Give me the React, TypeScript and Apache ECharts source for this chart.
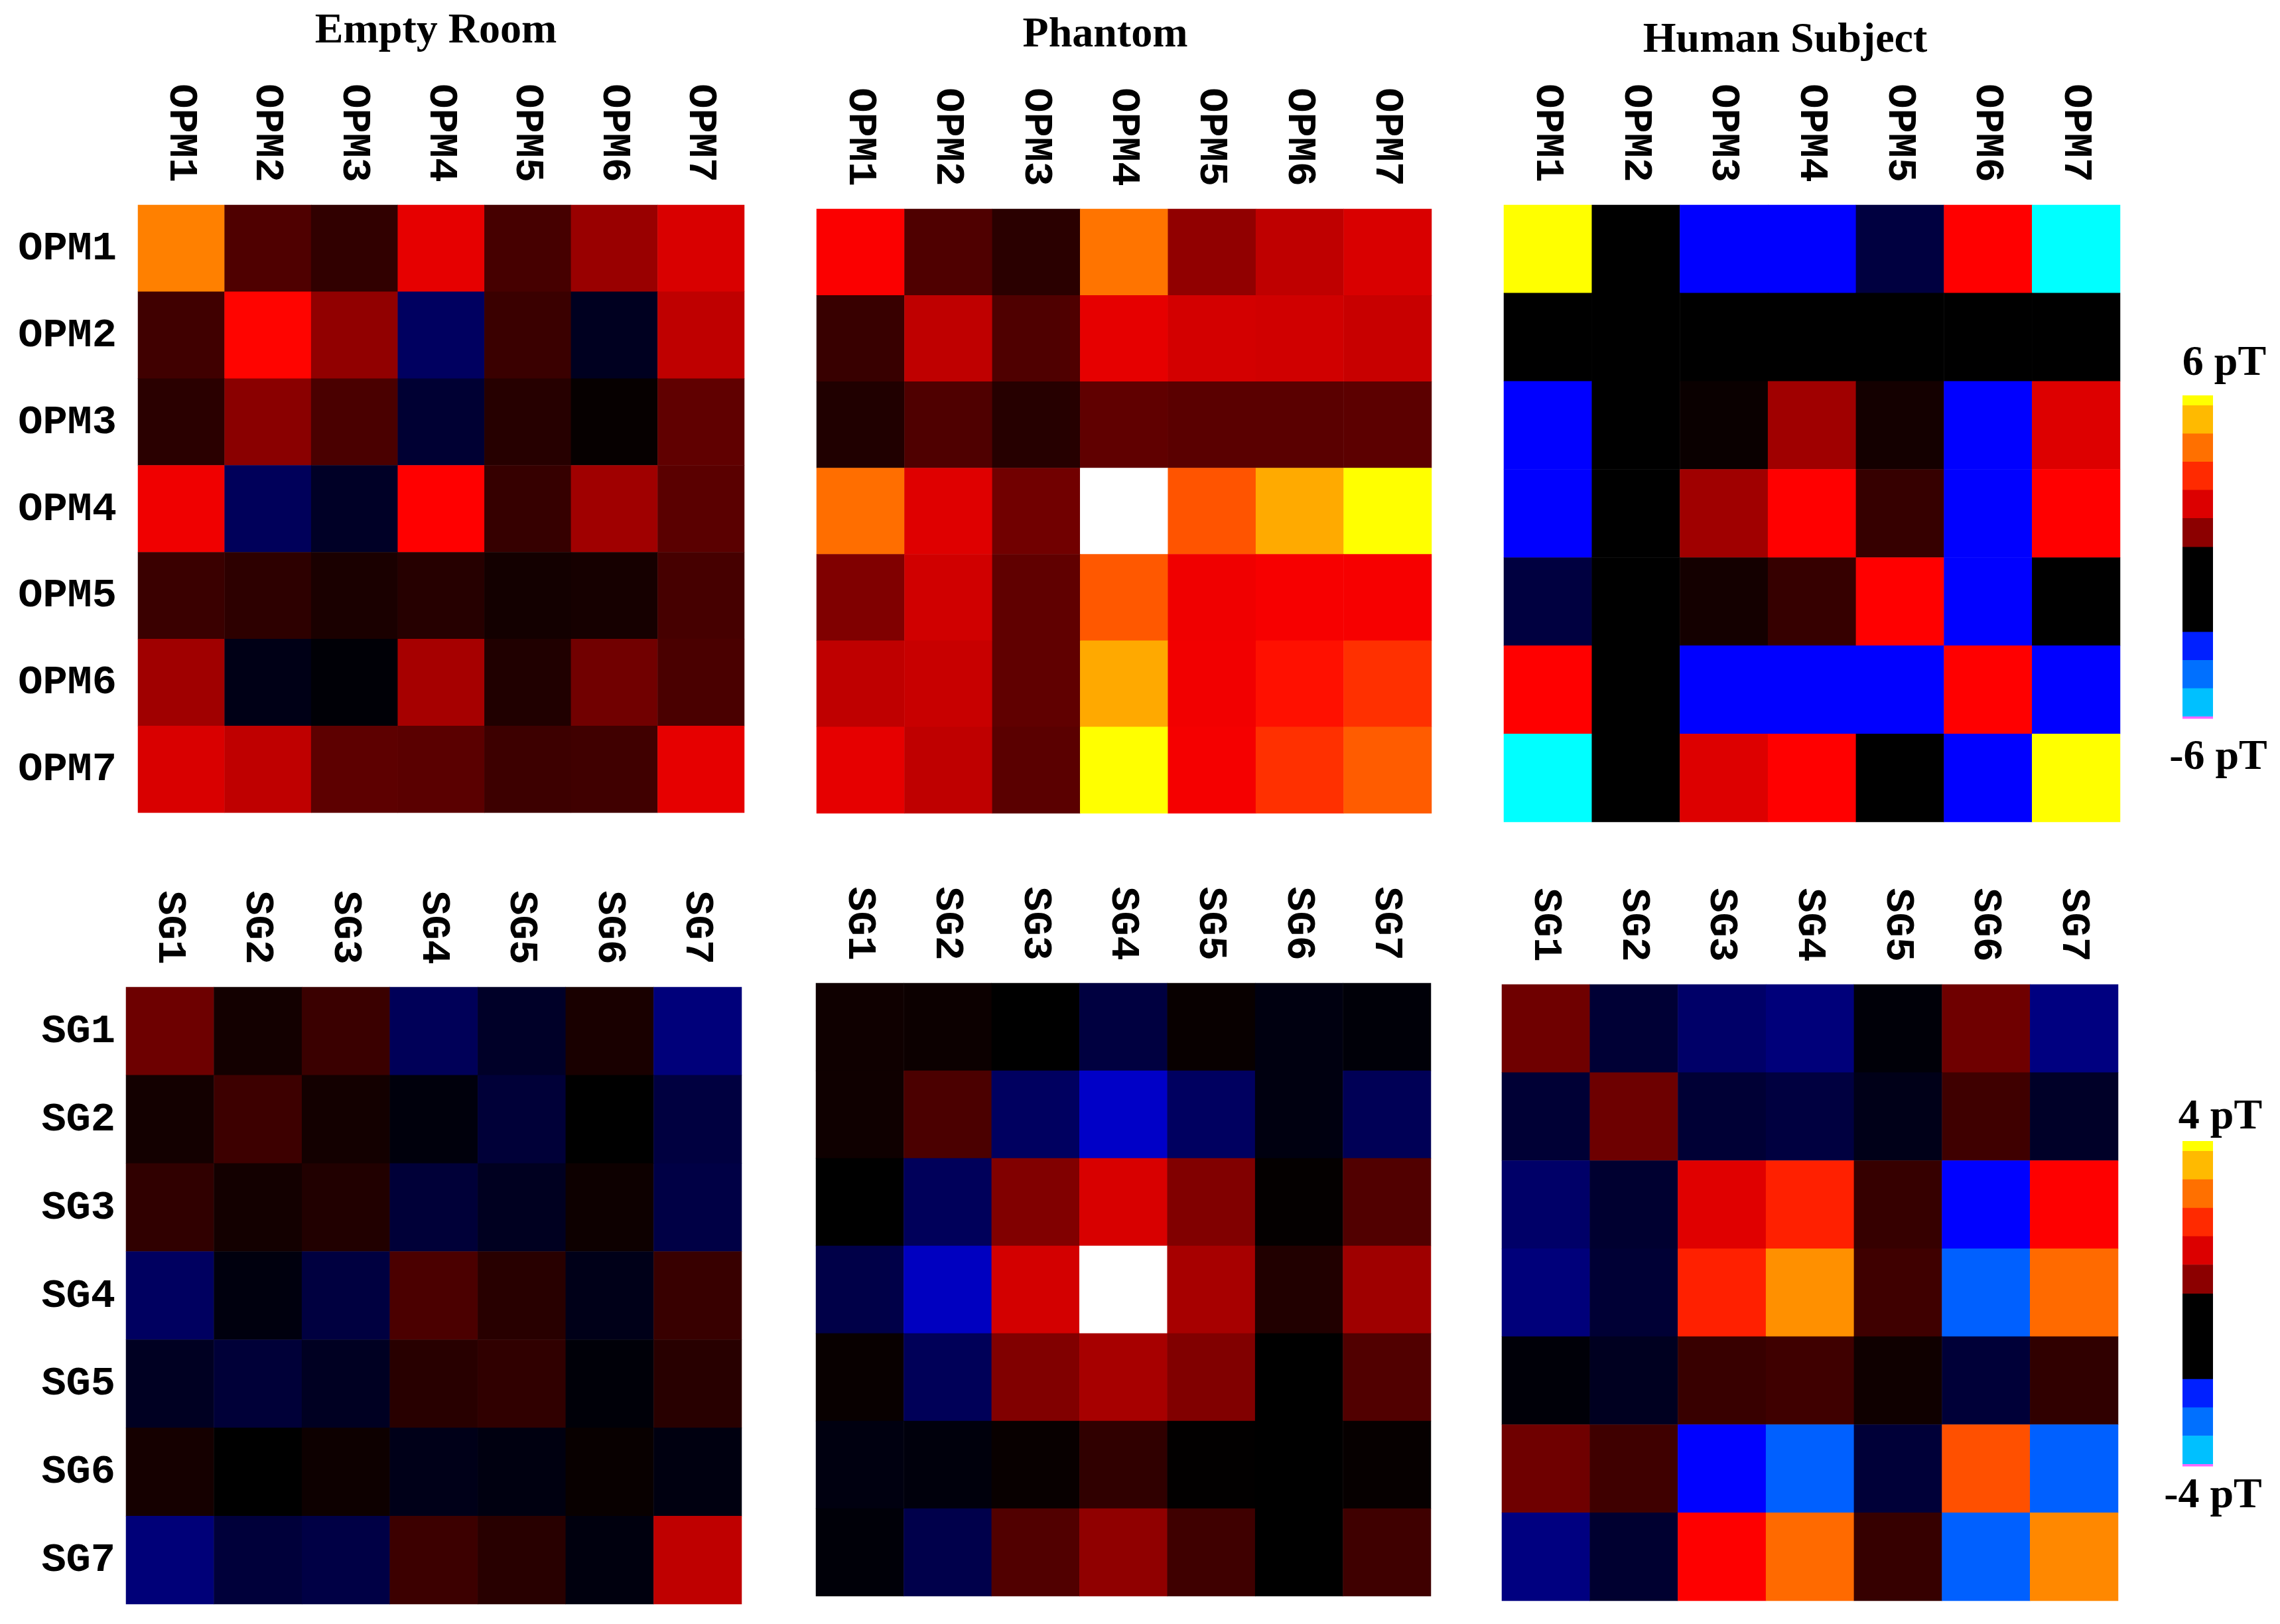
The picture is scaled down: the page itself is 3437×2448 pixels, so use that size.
import React, { useEffect, useRef } from "react";
import * as echarts from "echarts";

// ---------- labels ----------
const opmLabels = ["OPM1", "OPM2", "OPM3", "OPM4", "OPM5", "OPM6", "OPM7"];
const sgLabels = ["SG1", "SG2", "SG3", "SG4", "SG5", "SG6", "SG7"];
const panelTitles = ["Empty Room", "Phantom", "Human Subject"];

// ---------- OPM cross-spectra (pT), rows OPM1..OPM7 ----------
const emptyRoomOPM = [
  [3.8, 0.62, 0.38, 1.8, 0.55, 1.2, 1.7],
  [0.5, 2.05, 1.13, -1.5, 0.45, -0.5, 1.5],
  [0.33, 1.08, 0.58, -0.8, 0.3, 0.05, 0.75],
  [1.88, -1.4, -0.6, 2.0, 0.42, 1.25, 0.7],
  [0.45, 0.35, 0.2, 0.3, 0.15, 0.17, 0.55],
  [1.25, -0.35, -0.1, 1.3, 0.25, 0.88, 0.58],
  [1.7, 1.5, 0.73, 0.7, 0.48, 0.5, 1.8],
];
const phantomOPM = [
  [1.97, 0.62, 0.33, 3.6, 1.13, 1.5, 1.7],
  [0.44, 1.5, 0.62, 1.8, 1.65, 1.63, 1.57],
  [0.25, 0.62, 0.3, 0.75, 0.7, 0.7, 0.72],
  [3.5, 1.75, 0.88, 7.0, 3.06, 4.58, 6.0],
  [1.0, 1.63, 0.75, 3.13, 1.88, 1.94, 1.94],
  [1.5, 1.57, 0.75, 4.55, 1.9, 2.2, 2.6],
  [1.8, 1.5, 0.7, 6.0, 1.92, 2.6, 3.2],
];
const humanOPM = [
  [6.0, 0, -4.0, -4.0, -1.0, 2.0, -6.0],
  [0, 0, 0, 0, 0, 0, 0],
  [-4.0, 0, 0.08, 1.25, 0.16, -4.0, 1.73],
  [-4.0, 0, 1.25, 2.0, 0.42, -4.0, 2.0],
  [-1.0, 0, 0.16, 0.42, 2.0, -4.0, 0],
  [2.0, 0, -4.0, -4.0, -4.0, 2.0, -4.0],
  [-6.0, 0, 1.73, 2.0, 0, -4.0, 6.0],
];

// ---------- SG cross-spectra (pT), rows SG1..SG7 ----------
const emptyRoomSG = [
  [0.57, 0.1, 0.3, -0.92, -0.42, 0.13, -1.27],
  [0.1, 0.32, 0.1, -0.13, -0.58, 0.0, -0.67],
  [0.25, 0.1, 0.17, -0.58, -0.33, 0.07, -0.72],
  [-1.0, -0.15, -0.67, 0.39, 0.21, -0.25, 0.29],
  [-0.35, -0.58, -0.35, 0.21, 0.25, -0.08, 0.21],
  [0.11, 0.0, 0.07, -0.25, -0.17, 0.04, -0.17],
  [-1.25, -0.6, -0.72, 0.31, 0.21, -0.15, 1.0],
];
const phantomSG = [
  [0.08, 0.06, 0.0, -0.67, 0.04, -0.17, -0.08],
  [0.08, 0.39, -1.0, -2.07, -1.0, -0.17, -0.9],
  [0.0, -0.94, 0.67, 1.13, 0.67, 0.02, 0.42],
  [-0.75, -2.0, 1.1, 4.7, 0.87, 0.17, 0.83],
  [0.04, -0.92, 0.67, 0.87, 0.67, 0.0, 0.42],
  [-0.17, -0.12, 0.04, 0.25, 0.01, 0.0, 0.03],
  [-0.08, -0.78, 0.42, 0.75, 0.33, 0.0, 0.33],
];
const humanSG = [
  [0.58, -0.55, -1.08, -1.27, -0.08, 0.58, -1.33],
  [-0.55, 0.57, -0.55, -0.67, -0.25, 0.33, -0.42],
  [-1.08, -0.5, 1.17, 1.6, 0.28, -2.67, 1.33],
  [-1.27, -0.55, 1.6, 2.72, 0.33, -3.24, 2.29],
  [-0.08, -0.33, 0.29, 0.33, 0.08, -0.58, 0.25],
  [0.58, 0.33, -2.67, -3.24, -0.58, 2.0, -3.24],
  [-1.33, -0.5, 1.33, 2.29, 0.28, -3.24, 2.62],
];

// ---------- colour scale ----------
const scaleColors = [
  "#00ffff", "#0070ff", "#0000ff", "#0000c0", "#000080", "#000040",
  "#000000", "#800000", "#ff0000", "#ff5000", "#ff8c00", "#ffc000",
  "#ffff00", "#ffffff",
];
const opmRange = [-6, 7];
const sgRange = [-4, 14 / 3];

const colorbarColors = [
  "#ffff00", "#ffba00", "#ff7000", "#ff2a00", "#dc0000", "#8c0000",
  "#000000", "#0020ff", "#0070ff", "#00c0ff", "#ff66ff",
];
const colorbarWeights = [3.1, 8.8, 8.8, 8.8, 8.8, 9.0, 26.5, 8.8, 8.8, 8.8, 0.6];
const opmBarLabels = ["6 pT", "-6 pT"];
const sgBarLabels = ["4 pT", "-4 pT"];

const matrices = [emptyRoomOPM, phantomOPM, humanOPM, emptyRoomSG, phantomSG, humanSG];

function toCells(m: number[][]) {
  const out: number[][] = [];
  m.forEach((row, r) => row.forEach((v, c) => out.push([c, r, v])));
  return out;
}

export default function App() {
  const ref = useRef<HTMLDivElement>(null);

  useEffect(() => {
    if (!ref.current) return;
    const chart = echarts.init(ref.current, undefined, { renderer: "svg" });

    const grids = [
      { left: 208, top: 309, width: 914, height: 916 },
      { left: 1231, top: 315, width: 927, height: 911 },
      { left: 2267, top: 309, width: 929, height: 930 },
      { left: 190, top: 1488, width: 928, height: 930 },
      { left: 1230, top: 1482, width: 927, height: 924 },
      { left: 2264, top: 1484, width: 929, height: 929 },
    ];
    const monoFont = {
      fontFamily: "'Liberation Mono', 'DejaVu Sans Mono', monospace",
      fontWeight: "bold" as const,
      fontSize: 62,
      color: "#000",
    };

    const xAxes = grids.map((_, i) => ({
      type: "category",
      gridIndex: i,
      position: "top",
      data: i < 3 ? opmLabels : sgLabels,
      axisLine: { show: false },
      axisTick: { show: false },
      splitLine: { show: false },
      axisLabel: { ...monoFont, rotate: 90, margin: 34, interval: 0 },
    }));
    const yAxes = grids.map((_, i) => ({
      type: "category",
      gridIndex: i,
      inverse: true,
      data: i < 3 ? opmLabels : sgLabels,
      axisLine: { show: false },
      axisTick: { show: false },
      splitLine: { show: false },
      axisLabel: {
        ...monoFont,
        show: i === 0 || i === 3,
        margin: i === 0 ? 32 : 16,
        interval: 0,
      },
    }));

    const series = matrices.map((m, i) => ({
      type: "heatmap",
      xAxisIndex: i,
      yAxisIndex: i,
      data: toCells(m),
      itemStyle: { borderWidth: 0 },
      emphasis: { disabled: true },
      progressive: 0,
    }));

    const serifBold = "bold 64px 'Liberation Serif', 'Times New Roman', serif";
    const titleX = [657, 1666, 2691];
    const titleY = [42, 48, 56];
    const graphics: any[] = panelTitles.map((t, i) => ({
      type: "text",
      x: titleX[i],
      y: titleY[i],
      style: {
        text: t,
        font: serifBold,
        fill: "#000",
        textAlign: "center",
        textVerticalAlign: "middle",
      },
    }));

    const bars = [
      { x: 3290, top: 596, width: 46, height: 487, labels: opmBarLabels, ly: [543, 1137], lx: [3353, 3344] },
      { x: 3290, top: 1720, width: 46, height: 490, labels: sgBarLabels, ly: [1679, 2250], lx: [3347, 3336] },
    ];
    const totalW = colorbarWeights.reduce((a, b) => a + b, 0);
    bars.forEach((b) => {
      let acc = 0;
      colorbarColors.forEach((c, k) => {
        const y0 = b.top + (acc / totalW) * b.height;
        acc += colorbarWeights[k];
        const y1 = b.top + (acc / totalW) * b.height;
        graphics.push({
          type: "rect",
          shape: { x: b.x, y: y0, width: b.width, height: y1 - y0 + 0.5 },
          style: { fill: c },
        });
      });
      b.labels.forEach((t, k) => {
        graphics.push({
          type: "text",
          x: b.lx[k],
          y: b.ly[k],
          style: {
            text: t,
            font: serifBold,
            fill: "#000",
            textAlign: "center",
            textVerticalAlign: "middle",
          },
        });
      });
    });

    chart.setOption({
      animation: false,
      backgroundColor: "#ffffff",
      grid: grids,
      xAxis: xAxes,
      yAxis: yAxes,
      visualMap: [
        {
          type: "continuous",
          show: false,
          min: opmRange[0],
          max: opmRange[1],
          seriesIndex: [0, 1, 2],
          inRange: { color: scaleColors },
        },
        {
          type: "continuous",
          show: false,
          min: sgRange[0],
          max: sgRange[1],
          seriesIndex: [3, 4, 5],
          inRange: { color: scaleColors },
        },
      ],
      series,
      graphic: graphics,
    } as any);

    return () => chart.dispose();
  }, []);

  return (
    <div
      ref={ref}
      style={{ position: "absolute", left: 0, top: 0, width: 3437, height: 2448, background: "#fff" }}
    />
  );
}
